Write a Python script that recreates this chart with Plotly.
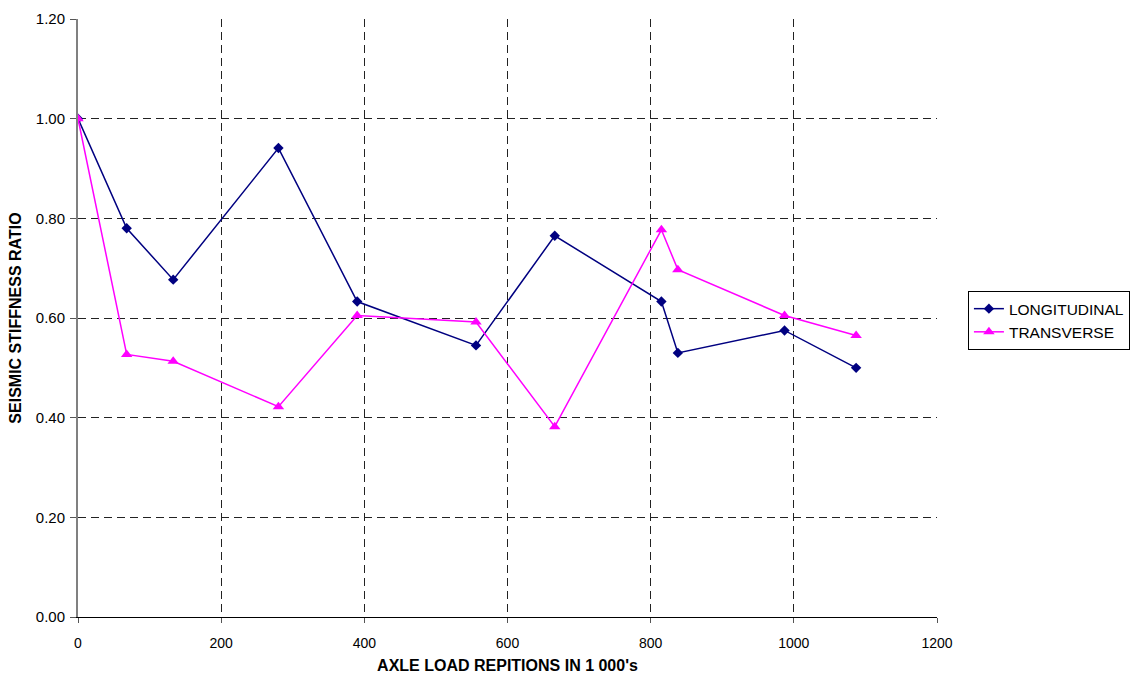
import plotly.graph_objects as go

x_vals = [0, 68, 133, 280, 390, 556, 666, 815, 838, 987, 1087]
longitudinal = [1.00, 0.780, 0.677, 0.941, 0.633, 0.545, 0.765, 0.633, 0.530, 0.575, 0.500]
transverse = [1.00, 0.527, 0.513, 0.422, 0.605, 0.592, 0.382, 0.777, 0.697, 0.605, 0.565]

font_family = "Liberation Sans, Arial, sans-serif"

fig = go.Figure()
fig.add_trace(go.Scatter(
    x=x_vals, y=longitudinal, name="LONGITUDINAL", mode="lines+markers",
    line=dict(color="#000080", width=1.5),
    marker=dict(symbol="diamond", size=8, color="#000080"),
))
fig.add_trace(go.Scatter(
    x=x_vals, y=transverse, name="TRANSVERSE", mode="lines+markers",
    line=dict(color="#FF00FF", width=1.5),
    marker=dict(symbol="triangle-up", size=10, color="#FF00FF"),
))

fig.update_layout(
    width=1131, height=674,
    margin=dict(l=78, r=194, t=19, b=57, autoexpand=False),
    paper_bgcolor="white", plot_bgcolor="white",
    font=dict(family=font_family, size=14, color="black"),
    showlegend=True,
    legend=dict(
        x=1.036, y=0.545, xanchor="left", yanchor="top",
        bordercolor="black", borderwidth=1,
        font=dict(size=15.5, family=font_family),
        tracegroupgap=0, itemwidth=30,
    ),
)
fig.update_xaxes(
    range=[0, 1200], tickvals=[0, 200, 400, 600, 800, 1000, 1200],
    showgrid=True, gridcolor="#222222", gridwidth=1, griddash="8px,5px",
    showline=True, linecolor="black", linewidth=1,
    ticks="outside", ticklen=5, tickcolor="#555555",
    tickfont=dict(size=14), ticklabelstandoff=8,
    zeroline=False, automargin=False,
    title=dict(text="<b>AXLE LOAD REPITIONS IN 1 000's</b>", font=dict(size=16, family=font_family), standoff=10),
)
fig.update_yaxes(
    range=[0, 1.2], tickvals=[0, 0.2, 0.4, 0.6, 0.8, 1.0, 1.2], tickformat=".2f",
    showgrid=True, gridcolor="#222222", gridwidth=1, griddash="8px,5px",
    showline=True, linecolor="#808080", linewidth=2,
    ticks="outside", ticklen=6, tickcolor="#555555",
    tickfont=dict(size=15), ticklabelstandoff=2,
    zeroline=False, automargin=False,
    title=dict(text="<b>SEISMIC STIFFNESS RATIO</b>", font=dict(size=16, family=font_family), standoff=10),
)

fig.write_html("out.html")
